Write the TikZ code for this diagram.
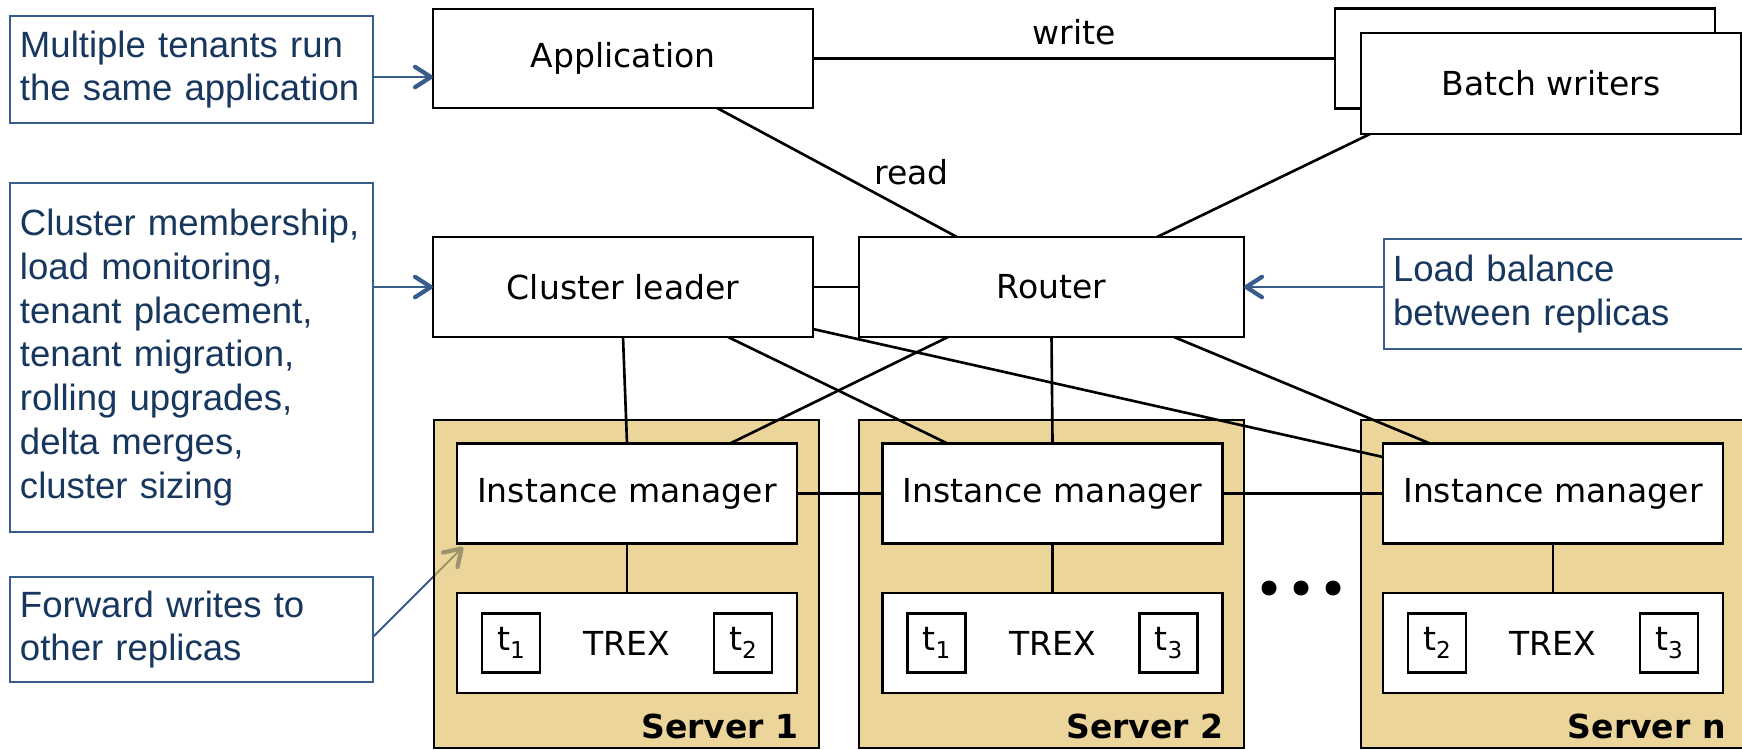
\documentclass[tikz,border=0pt]{standalone}
\usepackage{fontspec}
\setmainfont{DejaVu Sans}
\newfontfamily\notefont{Liberation Sans}
\usetikzlibrary{arrows.meta,positioning}

\definecolor{srvtan}{RGB}{223,185,88}
\definecolor{notetext}{RGB}{23,55,94}
\definecolor{noteline}{RGB}{56,93,138}

\newcommand{\tsub}[1]{t\raisebox{-2.3pt}{\fontsize{6.6}{7}\selectfont #1}}

\begin{document}
\begin{tikzpicture}[line width=0.75pt,
		box/.style={draw, fill=white, minimum width=3.8cm, minimum height=1.0cm, inner sep=0pt, outer sep=0pt, font=\fontsize{9.4}{11}\selectfont},
		server/.style={draw, fill=srvtan, fill opacity=0.6, minimum width=3.85cm, minimum height=3.28cm, outer sep=0pt},
		inbox/.style={box, minimum width=3.4cm, minimum height=1.0cm},
		tbox/.style={box, minimum width=0.58cm, minimum height=0.59cm},
		srvlabel/.style={inner sep=0pt, font=\fontsize{9.4}{11}\selectfont\bfseries},
		note/.style={draw=noteline, line width=0.55pt, fill=white, text=notetext, align=left, text width=3.43cm, inner xsep=0.1cm, inner ysep=0pt, outer sep=0pt, minimum width=3.63cm, font=\notefont\fontsize{10.4}{12.5}\selectfont},
		link/.style={-{Straight Barb[length=4.5pt, width=5.8pt, line width=0pt 2.2, round]}, noteline, line width=0.55pt},
		lbl/.style={font=\fontsize{9.4}{11}\selectfont, inner sep=0pt}]
		\useasboundingbox (0,0) rectangle (17.42,-7.49);
		\coordinate (fwd) at (4.63,-5.47);
		% notes on the left and right
		\node[note, minimum height=1.07cm] (c1) at (1.915,-0.695) {Multiple tenants run\\the same application};
		\node[note, minimum height=3.49cm] (c2) at (1.915,-3.575) {Cluster membership,\\load monitoring,\\tenant placement,\\tenant migration,\\rolling upgrades,\\delta merges,\\cluster sizing};
		\node[note, minimum height=1.10cm, text width=3.72cm, inner xsep=0.09cm, minimum width=3.9cm] (c3) at (15.79,-2.94) {Load balance\\between replicas};
		\node[note, minimum height=1.05cm] (c4) at (1.915,-6.295) {Forward writes to\\other replicas};
		\draw[link] ([yshift=-0.075cm]c4.east) -- (fwd);
		% servers
		\node[server] (srv1) at (6.265,-5.84) {};
		\node[server] (srv2) at (10.515,-5.84) {};
		\node[server] (srvn) at (15.535,-5.84) {};
		\node[srvlabel, anchor=base east] (lab1) at ([xshift=-0.19cm, yshift=0.1cm]srv1.south east) {Server 1};
		\node[srvlabel, anchor=base east] (lab2) at ([xshift=-0.19cm, yshift=0.1cm]srv2.south east) {Server 2};
		\node[srvlabel, anchor=base east] (labn) at ([xshift=-0.19cm, yshift=0.1cm]srvn.south east) {Server n};
		\node[inbox] (im1) at (6.27,-4.935) {Instance manager};
		\node[inbox] (im2) at (10.525,-4.935) {Instance manager};
		\node[inbox] (imn) at (15.53,-4.935) {Instance manager};
		\node[inbox] (trex1) at (6.27,-6.43) {TREX};
		\node[inbox] (trex2) at (10.525,-6.43) {TREX};
		\node[inbox] (trexn) at (15.53,-6.43) {TREX};
		\node[tbox] (t11) at ([xshift=-1.16cm]trex1.center) {\tsub{1}};
		\node[tbox] (t12) at ([xshift=1.16cm]trex1.center) {\tsub{2}};
		\node[tbox] (t21) at ([xshift=-1.16cm]trex2.center) {\tsub{1}};
		\node[tbox] (t23) at ([xshift=1.16cm]trex2.center) {\tsub{3}};
		\node[tbox] (tn2) at ([xshift=-1.16cm]trexn.center) {\tsub{2}};
		\node[tbox] (tn3) at ([xshift=1.16cm]trexn.center) {\tsub{3}};
		\fill (12.69,-5.88) circle (0.075);
		\fill (13.01,-5.88) circle (0.075);
		\fill (13.33,-5.88) circle (0.075);
		% upper boxes
		\node[box, minimum height=0.99cm] (app) at (6.23,-0.585) {Application};
		\node[box] (batchback) at (15.25,-0.585) {};
		\node[box, minimum height=1.01cm] (batch) at (15.51,-0.835) {Batch writers};
		\node[box] (leader) at (6.23,-2.87) {Cluster leader};
		\node[box, minimum width=3.85cm] (router) at (10.515,-2.87) {Router};
		% connectors
		\draw (app.east) -- (batchback.west) node[midway, above=0.12cm, lbl] {write};
		\draw ([xshift=0.94cm]app.south) -- ([xshift=-0.945cm]router.north) node[midway, right=0.36cm, lbl] {read};
		\draw ([xshift=0.09cm]batch.south west) -- ([xshift=1.055cm]router.north);
		\draw (leader.east) -- (router.west);
		\draw (leader.south) -- (im1.north);
		\draw ([xshift=1.05cm]leader.south) -- ([xshift=-1.05cm]im2.north);
		\draw ([yshift=-0.42cm]leader.east) -- ([yshift=0.365cm]imn.west);
		\draw ([xshift=-1.035cm]router.south) -- ([xshift=1.03cm]im1.north);
		\draw (router.south) -- (im2.north);
		\draw ([xshift=1.225cm]router.south) -- ([xshift=-1.23cm]imn.north);
		\draw (im1.east) -- (im2.west);
		\draw (im2.east) -- (imn.west);
		\draw (im1.south) -- (trex1.north);
		\draw (im2.south) -- (trex2.north);
		\draw (imn.south) -- (trexn.north);
		% note arrows
		\draw[link] (c1.east |- 0,-0.77) -- (app.west |- 0,-0.77);
		\draw[link] (c2.east |- leader.west) -- (leader.west);
		\draw[link] (c3.west |- router.east) -- (router.east);
	\end{tikzpicture}
\end{document}
